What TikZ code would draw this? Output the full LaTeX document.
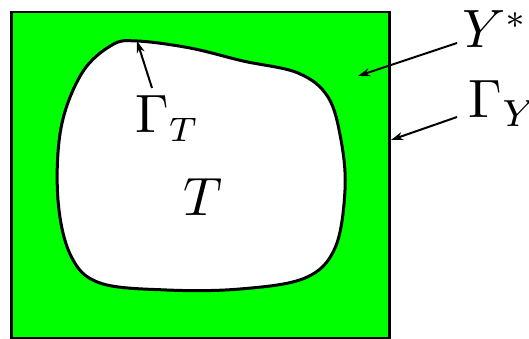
\documentclass[tikz,border=0pt]{standalone}
\usepackage{graphicx}
\usetikzlibrary{arrows.meta}
\definecolor{brightgreen}{RGB}{0,255,0}
\begin{document}
\begin{tikzpicture}[x=1pt,y=-1pt,
  lbl/.style={inner sep=0pt,scale=5.4},
  pointer/.style={line width=2pt,-{Stealth[length=12pt,width=8pt]}}]
\useasboundingbox (0,0) rectangle (529,339);
\node[draw=black,line width=2.5pt,fill=brightgreen,minimum width=378pt,minimum height=326pt,inner sep=0pt,anchor=north west] (cell) at (10,11) {};
\draw[line width=3pt,fill=white] plot[smooth cycle,tension=0.6] coordinates {
 (137,41) (190,48) (243,61) (298,73) (328,97) (341,140)
 (345,190) (335,248) (305,278) (240,289) (167,290) (100,283)
 (71,256) (58,200) (61,128) (82,73) (112,45)};
\node[lbl,anchor=base] (T) at (203,215) {$T$};
\node[lbl,anchor=base west] (GT) at (134,133) {$\Gamma_{\scalebox{0.9}{$\scriptstyle T$}}$};
\node[lbl,anchor=base west] (Ys) at (461,48) {$Y^{\scalebox{0.9}{$\scriptstyle *$}}$};
\node[lbl,anchor=base west] (GY) at (467,118) {$\Gamma_Y$};
\coordinate (gtTail) at (152,88);
\coordinate (gtHead) at (137,41);
\coordinate (ysTail) at (457,43);
\coordinate (ysHead) at (358,76);
\coordinate (gyTail) at (457,117);
\coordinate (gyHead) at (391,140);
\draw[pointer] (gtTail) -- (gtHead);
\draw[pointer] (ysTail) -- (ysHead);
\draw[pointer] (gyTail) -- (gyHead);
\end{tikzpicture}
\end{document}
